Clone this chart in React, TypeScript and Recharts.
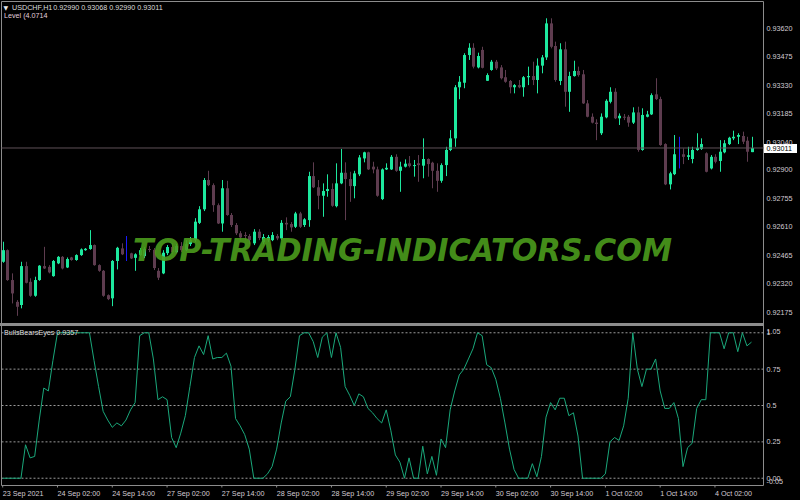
import React from 'react';
import { ComposedChart, Bar, Line, XAxis, YAxis, ReferenceLine, ReferenceArea } from 'recharts';

// ---- price data (H1 candles, bar index 0 = 23 Sep 14:00) ----
const opens = [
  0.92432, 0.92491, 0.92339, 0.92228, 0.92212, 0.92410, 0.92330, 0.92259, 0.92339, 0.92410,
  0.92406, 0.92359, 0.92424, 0.92457, 0.92403, 0.92454, 0.92441, 0.92466, 0.92491, 0.92497,
  0.92517, 0.92415, 0.92386, 0.92262, 0.92246, 0.92436, 0.92500, 0.92470, 0.92475, 0.92452,
  0.92466, 0.92461, 0.92497, 0.92493, 0.92386, 0.92373, 0.92476, 0.92507, 0.92481, 0.92512,
  0.92491, 0.92522, 0.92542, 0.92630, 0.92699, 0.92848, 0.92822, 0.92720, 0.92627, 0.92806,
  0.92670, 0.92619, 0.92577, 0.92568, 0.92563, 0.92526, 0.92585, 0.92532, 0.92542, 0.92542,
  0.92563, 0.92551, 0.92630, 0.92624, 0.92610, 0.92678, 0.92619, 0.92644, 0.92868, 0.92811,
  0.92768, 0.92792, 0.92802, 0.92715, 0.92831, 0.92885, 0.92853, 0.92817, 0.92877, 0.92958,
  0.92989, 0.92916, 0.92902, 0.92751, 0.92902, 0.92902, 0.92966, 0.92895, 0.92916, 0.92933,
  0.92919, 0.92933, 0.92921, 0.92955, 0.92936, 0.92895, 0.92844, 0.92924, 0.93001, 0.93060,
  0.93320, 0.93343, 0.93484, 0.93521, 0.93421, 0.93510, 0.93353, 0.93408, 0.93450, 0.93421,
  0.93371, 0.93352, 0.93320, 0.93331, 0.93320, 0.93371, 0.93377, 0.93357, 0.93430, 0.93472,
  0.93645, 0.93530, 0.93352, 0.93513, 0.93297, 0.93377, 0.93403, 0.93386, 0.93238, 0.93170,
  0.93140, 0.93086, 0.93167, 0.93246, 0.93297, 0.93162, 0.93170, 0.93170, 0.93140, 0.93192,
  0.93001, 0.93170, 0.93182, 0.93284, 0.93260, 0.93031, 0.92826, 0.92878, 0.92975, 0.92979,
  0.92966, 0.92955, 0.93001, 0.93006, 0.92984, 0.92907, 0.92966, 0.92945, 0.92989, 0.93031,
  0.93060, 0.93068, 0.93072, 0.93048, 0.92990,
];
const highs = [
  0.92534, 0.92495, 0.92373, 0.92237, 0.92432, 0.92432, 0.92348, 0.92356, 0.92415, 0.92508,
  0.92415, 0.92441, 0.92461, 0.92461, 0.92454, 0.92457, 0.92470, 0.92500, 0.92502, 0.92593,
  0.92520, 0.92419, 0.92390, 0.92266, 0.92441, 0.92508, 0.92526, 0.92563, 0.92478, 0.92475,
  0.92502, 0.92507, 0.92512, 0.92502, 0.92400, 0.92491, 0.92517, 0.92527, 0.92522, 0.92532,
  0.92542, 0.92558, 0.92654, 0.92715, 0.92858, 0.92895, 0.92831, 0.92729, 0.92848, 0.92844,
  0.92680, 0.92629, 0.92588, 0.92583, 0.92573, 0.92598, 0.92598, 0.92573, 0.92568, 0.92583,
  0.92573, 0.92644, 0.92658, 0.92634, 0.92686, 0.92686, 0.92654, 0.92890, 0.92938, 0.92848,
  0.92831, 0.92877, 0.92831, 0.92933, 0.93006, 0.92938, 0.92890, 0.92895, 0.92975, 0.92992,
  0.92992, 0.92941, 0.92916, 0.92907, 0.92933, 0.92975, 0.92979, 0.92941, 0.92953, 0.92970,
  0.92950, 0.92975, 0.93060, 0.92958, 0.92941, 0.92933, 0.92933, 0.93017, 0.93102, 0.93331,
  0.93377, 0.93493, 0.93544, 0.93544, 0.93496, 0.93526, 0.93391, 0.93459, 0.93459, 0.93433,
  0.93408, 0.93357, 0.93336, 0.93357, 0.93377, 0.93425, 0.93450, 0.93467, 0.93484, 0.93671,
  0.93671, 0.93552, 0.93544, 0.93552, 0.93399, 0.93455, 0.93425, 0.93408, 0.93255, 0.93187,
  0.93157, 0.93187, 0.93259, 0.93320, 0.93315, 0.93187, 0.93184, 0.93179, 0.93218, 0.93221,
  0.93213, 0.93200, 0.93289, 0.93366, 0.93272, 0.93035, 0.92890, 0.93077, 0.93068, 0.93009,
  0.93017, 0.93017, 0.93086, 0.93060, 0.92989, 0.92975, 0.92979, 0.93051, 0.93051, 0.93068,
  0.93099, 0.93086, 0.93094, 0.93068, 0.93068,
];
const lows = [
  0.92427, 0.92335, 0.92220, 0.92157, 0.92195, 0.92322, 0.92254, 0.92254, 0.92335, 0.92395,
  0.92373, 0.92356, 0.92420, 0.92393, 0.92400, 0.92437, 0.92437, 0.92462, 0.92488, 0.92493,
  0.92412, 0.92381, 0.92254, 0.92237, 0.92206, 0.92393, 0.92466, 0.92436, 0.92446, 0.92386,
  0.92461, 0.92451, 0.92481, 0.92390, 0.92339, 0.92369, 0.92466, 0.92471, 0.92476, 0.92481,
  0.92486, 0.92512, 0.92532, 0.92624, 0.92690, 0.92817, 0.92686, 0.92624, 0.92585, 0.92666,
  0.92609, 0.92568, 0.92542, 0.92542, 0.92522, 0.92517, 0.92542, 0.92522, 0.92532, 0.92537,
  0.92542, 0.92542, 0.92593, 0.92585, 0.92604, 0.92604, 0.92609, 0.92610, 0.92807, 0.92699,
  0.92661, 0.92763, 0.92712, 0.92709, 0.92827, 0.92644, 0.92737, 0.92755, 0.92868, 0.92938,
  0.92899, 0.92882, 0.92763, 0.92746, 0.92899, 0.92899, 0.92890, 0.92788, 0.92912, 0.92912,
  0.92865, 0.92839, 0.92857, 0.92865, 0.92806, 0.92788, 0.92834, 0.92868, 0.92995, 0.93017,
  0.93259, 0.93315, 0.93459, 0.93416, 0.93416, 0.93416, 0.93352, 0.93404, 0.93408, 0.93360,
  0.93343, 0.93289, 0.93289, 0.93315, 0.93272, 0.93331, 0.93331, 0.93289, 0.93391, 0.93459,
  0.93518, 0.93348, 0.93331, 0.93221, 0.93195, 0.93374, 0.93374, 0.93235, 0.93167, 0.93136,
  0.93051, 0.93077, 0.93162, 0.93238, 0.93158, 0.93128, 0.93153, 0.93119, 0.93133, 0.92992,
  0.92997, 0.93167, 0.93179, 0.93255, 0.93022, 0.92822, 0.92800, 0.92873, 0.92907, 0.92929,
  0.92950, 0.92933, 0.92997, 0.93001, 0.92887, 0.92902, 0.92933, 0.92890, 0.92984, 0.93026,
  0.93051, 0.93031, 0.93031, 0.92941, 0.92990,
];
const closes = [
  0.92491, 0.92339, 0.92271, 0.92203, 0.92410, 0.92325, 0.92259, 0.92339, 0.92412, 0.92398,
  0.92378, 0.92436, 0.92457, 0.92398, 0.92446, 0.92441, 0.92466, 0.92495, 0.92498, 0.92517,
  0.92415, 0.92386, 0.92259, 0.92242, 0.92436, 0.92503, 0.92470, 0.92470, 0.92449, 0.92470,
  0.92491, 0.92497, 0.92493, 0.92400, 0.92351, 0.92478, 0.92507, 0.92481, 0.92512, 0.92491,
  0.92522, 0.92542, 0.92636, 0.92699, 0.92848, 0.92822, 0.92720, 0.92627, 0.92806, 0.92670,
  0.92619, 0.92577, 0.92556, 0.92563, 0.92542, 0.92585, 0.92553, 0.92558, 0.92558, 0.92568,
  0.92551, 0.92630, 0.92622, 0.92607, 0.92678, 0.92610, 0.92648, 0.92868, 0.92811, 0.92768,
  0.92792, 0.92802, 0.92717, 0.92831, 0.92885, 0.92853, 0.92817, 0.92882, 0.92963, 0.92989,
  0.92902, 0.92902, 0.92768, 0.92902, 0.92910, 0.92966, 0.92895, 0.92916, 0.92931, 0.92919,
  0.92924, 0.92924, 0.92955, 0.92929, 0.92895, 0.92844, 0.92924, 0.93001, 0.93060, 0.93320,
  0.93348, 0.93484, 0.93521, 0.93425, 0.93479, 0.93419, 0.93382, 0.93450, 0.93416, 0.93366,
  0.93348, 0.93320, 0.93331, 0.93320, 0.93371, 0.93377, 0.93357, 0.93430, 0.93472, 0.93645,
  0.93526, 0.93357, 0.93513, 0.93297, 0.93377, 0.93403, 0.93382, 0.93238, 0.93170, 0.93140,
  0.93133, 0.93170, 0.93251, 0.93297, 0.93162, 0.93175, 0.93167, 0.93140, 0.93192, 0.93001,
  0.93179, 0.93182, 0.93280, 0.93260, 0.93026, 0.92826, 0.92882, 0.92979, 0.92975, 0.92966,
  0.92974, 0.93001, 0.93012, 0.93031, 0.92890, 0.92966, 0.92941, 0.92992, 0.93035, 0.93063,
  0.93068, 0.93077, 0.93043, 0.92992, 0.93011,
];

// ---- BullsBearsEyes indicator ----
const bbe = [
  0, 0, 0, 0, 0, 0.23, 0.14, 0.15, 0.40, 0.62,
  0.60, 0.81, 1, 1, 1, 1, 1, 1, 1, 1,
  0.81, 0.63, 0.46, 0.40, 0.35, 0.38, 0.36, 0.40, 0.47, 0.52,
  0.98, 1, 1, 0.82, 0.54, 0.56, 0.54, 0.28, 0.21, 0.31,
  0.43, 0.63, 0.83, 0.91, 0.85, 0.98, 0.82, 0.83, 0.83, 0.86,
  0.77, 0.41, 0.36, 0.30, 0.20, 0, 0, 0, 0.03, 0.08,
  0.20, 0.38, 0.53, 0.56, 0.75, 0.98, 1, 1, 0.94, 0.83,
  0.97, 1, 0.83, 1, 0.90, 0.63, 0.57, 0.50, 0.58, 0.56,
  0.48, 0.45, 0.41, 0.38, 0.47, 0.33, 0.16, 0.11, 0, 0.14,
  0, 0, 0.22, 0.03, 0.15, 0.02, 0.27, 0.21, 0.47, 0.60,
  0.71, 0.75, 0.82, 0.89, 1, 0.98, 0.78, 0.76, 0.68, 0.55,
  0.38, 0.20, 0.06, 0, 0, 0, 0.10, 0.01, 0.15, 0.42,
  0.52, 0.47, 0.55, 0.55, 0.43, 0.45, 0.29, 0, 0, 0,
  0, 0, 0.03, 0.25, 0.28, 0.26, 0.36, 0.55, 1, 0.75,
  0.63, 0.75, 0.75, 0.82, 0.60, 0.48, 0.48, 0.52, 0.41, 0.08,
  0.21, 0.24, 0.48, 0.54, 0.54, 1, 1, 1, 0.89, 1,
  1, 0.87, 1, 0.91, 0.9357,
];

const timeTickBars = [0, 12, 24, 36, 48, 60, 72, 84, 96, 108, 120, 132, 144, 156];
const timeTickLabels = [
  '23 Sep 2021', '24 Sep 02:00', '24 Sep 14:00', '27 Sep 02:00', '27 Sep 14:00',
  '28 Sep 02:00', '28 Sep 14:00', '29 Sep 02:00', '29 Sep 14:00', '30 Sep 02:00',
  '30 Sep 14:00', '1 Oct 02:00', '1 Oct 14:00', '4 Oct 02:00',
];
const priceTicks = [0.93620, 0.93475, 0.93330, 0.93185, 0.93040, 0.92900, 0.92755, 0.92610, 0.92465, 0.92320, 0.92175];
const indicatorTicks = [1.05, 1, 0.75, 0.5, 0.25, 0, -0.05];
const indicatorTickLabels = ['1.05', '1', '0.75', '0.5', '0.25', '0.00', '-0.05'];
const indicatorLevels = [1, 0.75, 0.5, 0.25, 0];
const currentPrice = 0.93011;

const X_DOMAIN: [number, number] = [-0.263, 166.63];
const PRICE_DOMAIN: [number, number] = [0.921179, 0.937564];
const IND_DOMAIN: [number, number] = [-0.05, 1.05];

const FONT = '"Liberation Sans", Arial, sans-serif';
const AXIS_TEXT = '#d4ccd4';
const BORDER = '#8c8c8c';
const BULL = '#1de89e';
const BEAR = '#5e3c4f';
const DOJI = '#1a1aff';

const Candle = (props: any) => {
  const { x, y, width, height, payload } = props;
  if (!payload || x == null || y == null) return null;
  const { o, h, l, c } = payload;
  const top = height >= 0 ? y : y + height;
  const hgt = Math.abs(height);
  const cx = Math.round(x + width / 2) + 0.5;
  const span = h - l;
  const toY = (p: number) => (span === 0 ? top : top + ((h - p) / span) * hgt);
  const yo = toY(o);
  const yc = toY(c);
  const doji = o === c;
  const color = doji ? DOJI : c > o ? BULL : BEAR;
  const bTop = Math.min(yo, yc);
  const bBot = Math.max(yo, yc);
  return (
    <g>
      <line x1={cx} x2={cx} y1={top} y2={top + hgt} stroke={color} strokeWidth={1} />
      {!doji && (
        <rect x={cx - 1.5} y={bTop} width={3} height={Math.max(bBot - bTop, 1)} fill={color} />
      )}
    </g>
  );
};

const PriceTick = (props: any) => {
  const { x, y, payload } = props;
  return (
    <text x={x} y={y + 2.6} fill={AXIS_TEXT} fontSize={7.2} fontFamily={FONT} textAnchor="start">
      {Number(payload.value).toFixed(5)}
    </text>
  );
};

const IndTick = (props: any) => {
  const { x, y, payload } = props;
  const idx = indicatorTicks.indexOf(payload.value);
  const label = idx >= 0 ? indicatorTickLabels[idx] : String(payload.value);
  let dy = 2.6;
  if (payload.value === 1.05) dy = 8;
  if (payload.value === -0.05) dy = -1.2;
  return (
    <text x={x} y={y + dy} fill={AXIS_TEXT} fontSize={7.2} fontFamily={FONT} textAnchor="start">
      {label}
    </text>
  );
};

const TimeTick = (props: any) => {
  const { x, y, payload } = props;
  const idx = timeTickBars.indexOf(payload.value);
  const label = idx >= 0 ? timeTickLabels[idx] : '';
  return (
    <text x={x} y={y + 8.2} fill={AXIS_TEXT} fontSize={7.2} fontFamily={FONT} textAnchor="start">
      {label}
    </text>
  );
};

const renderPriceBox = (props: any) => {
  const vb = props.viewBox || {};
  const bx = (vb.x ?? 0) + (vb.width ?? 0) + 0.5;
  const by = vb.y ?? 0;
  return (
    <g>
      <rect x={bx} y={by - 4} width={33} height={9} fill="#ffffff" />
      <text x={bx + 2.5} y={by + 3.2} fill="#000000" fontSize={7.2} fontFamily={FONT} textAnchor="start">
        {currentPrice.toFixed(5)}
      </text>
    </g>
  );
};

export default function App() {
  const data = opens.map((o, i) => ({
    i,
    o,
    h: highs[i],
    l: lows[i],
    c: closes[i],
    range: [lows[i], highs[i]],
    bbe: bbe[i],
  }));

  return (
    <div
      style={{
        position: 'fixed',
        left: 0,
        top: 0,
        width: 800,
        height: 500,
        background: '#000',
        overflow: 'hidden',
      }}
    >
      <div style={{ position: 'absolute', left: 0, top: 0 }}>
        <ComposedChart width={800} height={325} data={data} margin={{ top: 1.5, right: 0, bottom: 1.5, left: 1.5 }}>
          <XAxis dataKey="i" type="number" domain={X_DOMAIN} allowDataOverflow hide />
          <YAxis
            orientation="right"
            width={36.5}
            type="number"
            domain={PRICE_DOMAIN}
            allowDataOverflow
            ticks={priceTicks}
            interval={0}
            tickSize={3}
            tickMargin={0}
            axisLine={false}
            tickLine={false}
            tick={<PriceTick />}
          />
          <ReferenceArea
            x1={X_DOMAIN[0]}
            x2={X_DOMAIN[1]}
            y1={PRICE_DOMAIN[0]}
            y2={PRICE_DOMAIN[1]}
            fill="none"
            fillOpacity={0}
            stroke={BORDER}
            strokeWidth={1}
          />
          <ReferenceLine y={currentPrice} stroke="#5f5058" strokeWidth={1} label={renderPriceBox} />
          <Bar dataKey="range" barSize={3} shape={<Candle />} isAnimationActive={false} />
        </ComposedChart>
      </div>

      <div style={{ position: 'absolute', left: 0, top: 323, width: 764, height: 3, background: BORDER }} />

      <div style={{ position: 'absolute', left: 0, top: 320 }}>
        <ComposedChart width={800} height={180} data={data} margin={{ top: 5.5, right: 0, bottom: 0.5, left: 1.5 }}>
          <XAxis
            dataKey="i"
            type="number"
            domain={X_DOMAIN}
            allowDataOverflow
            ticks={timeTickBars}
            interval={0}
            height={14}
            tickSize={2}
            tickMargin={0}
            axisLine={false}
            tickLine={{ stroke: BORDER }}
            tick={<TimeTick />}
          />
          <YAxis
            orientation="right"
            width={36.5}
            type="number"
            domain={IND_DOMAIN}
            allowDataOverflow
            ticks={indicatorTicks}
            interval={0}
            tickSize={3}
            tickMargin={0}
            axisLine={false}
            tickLine={false}
            tick={<IndTick />}
          />
          <ReferenceArea
            x1={X_DOMAIN[0]}
            x2={X_DOMAIN[1]}
            y1={IND_DOMAIN[0]}
            y2={IND_DOMAIN[1]}
            fill="none"
            fillOpacity={0}
            stroke={BORDER}
            strokeWidth={1}
          />
          {indicatorLevels.map((v) => (
            <ReferenceLine key={v} y={v} stroke="#9a9a9a" strokeWidth={1} strokeDasharray="2 2" />
          ))}
          <Line
            type="linear"
            dataKey="bbe"
            stroke="#1aa87b"
            strokeWidth={1}
            dot={false}
            activeDot={false}
            isAnimationActive={false}
          />
        </ComposedChart>
      </div>

      <svg
        width={800}
        height={500}
        style={{ position: 'absolute', left: 0, top: 0, pointerEvents: 'none' }}
      >
        <text x={3.5} y={9.5} fill="#e8e8e8" fontSize={6} fontFamily="DejaVu Sans">▼</text>
        <text x={12} y={9.7} fill="#dcdcdc" fontSize={7.2} fontFamily={FONT}>USDCHF,H1</text>
        <text x={53.3} y={9.7} fill="#dcdcdc" fontSize={7.2} fontFamily={FONT}>0.92990 0.93068 0.92990 0.93011</text>
        <text x={4} y={17.7} fill="#e2cfdc" fontSize={7.2} fontFamily={FONT}>Level (4.0714</text>
        <text x={4} y={334.7} fill="#dcdcdc" fontSize={7.2} fontFamily={FONT}>BullsBearsEyes 0.9357</text>
        <text
          x={133}
          y={261}
          fill="#4b9b1c"
          fillOpacity={0.93}
          fontSize={32}
          fontWeight="bold"
          fontStyle="italic"
          fontFamily="DejaVu Sans"
          textLength={539}
          lengthAdjust="spacingAndGlyphs"
        >
          TOP-TRADING-INDICATORS.COM
        </text>
      </svg>
    </div>
  );
}
